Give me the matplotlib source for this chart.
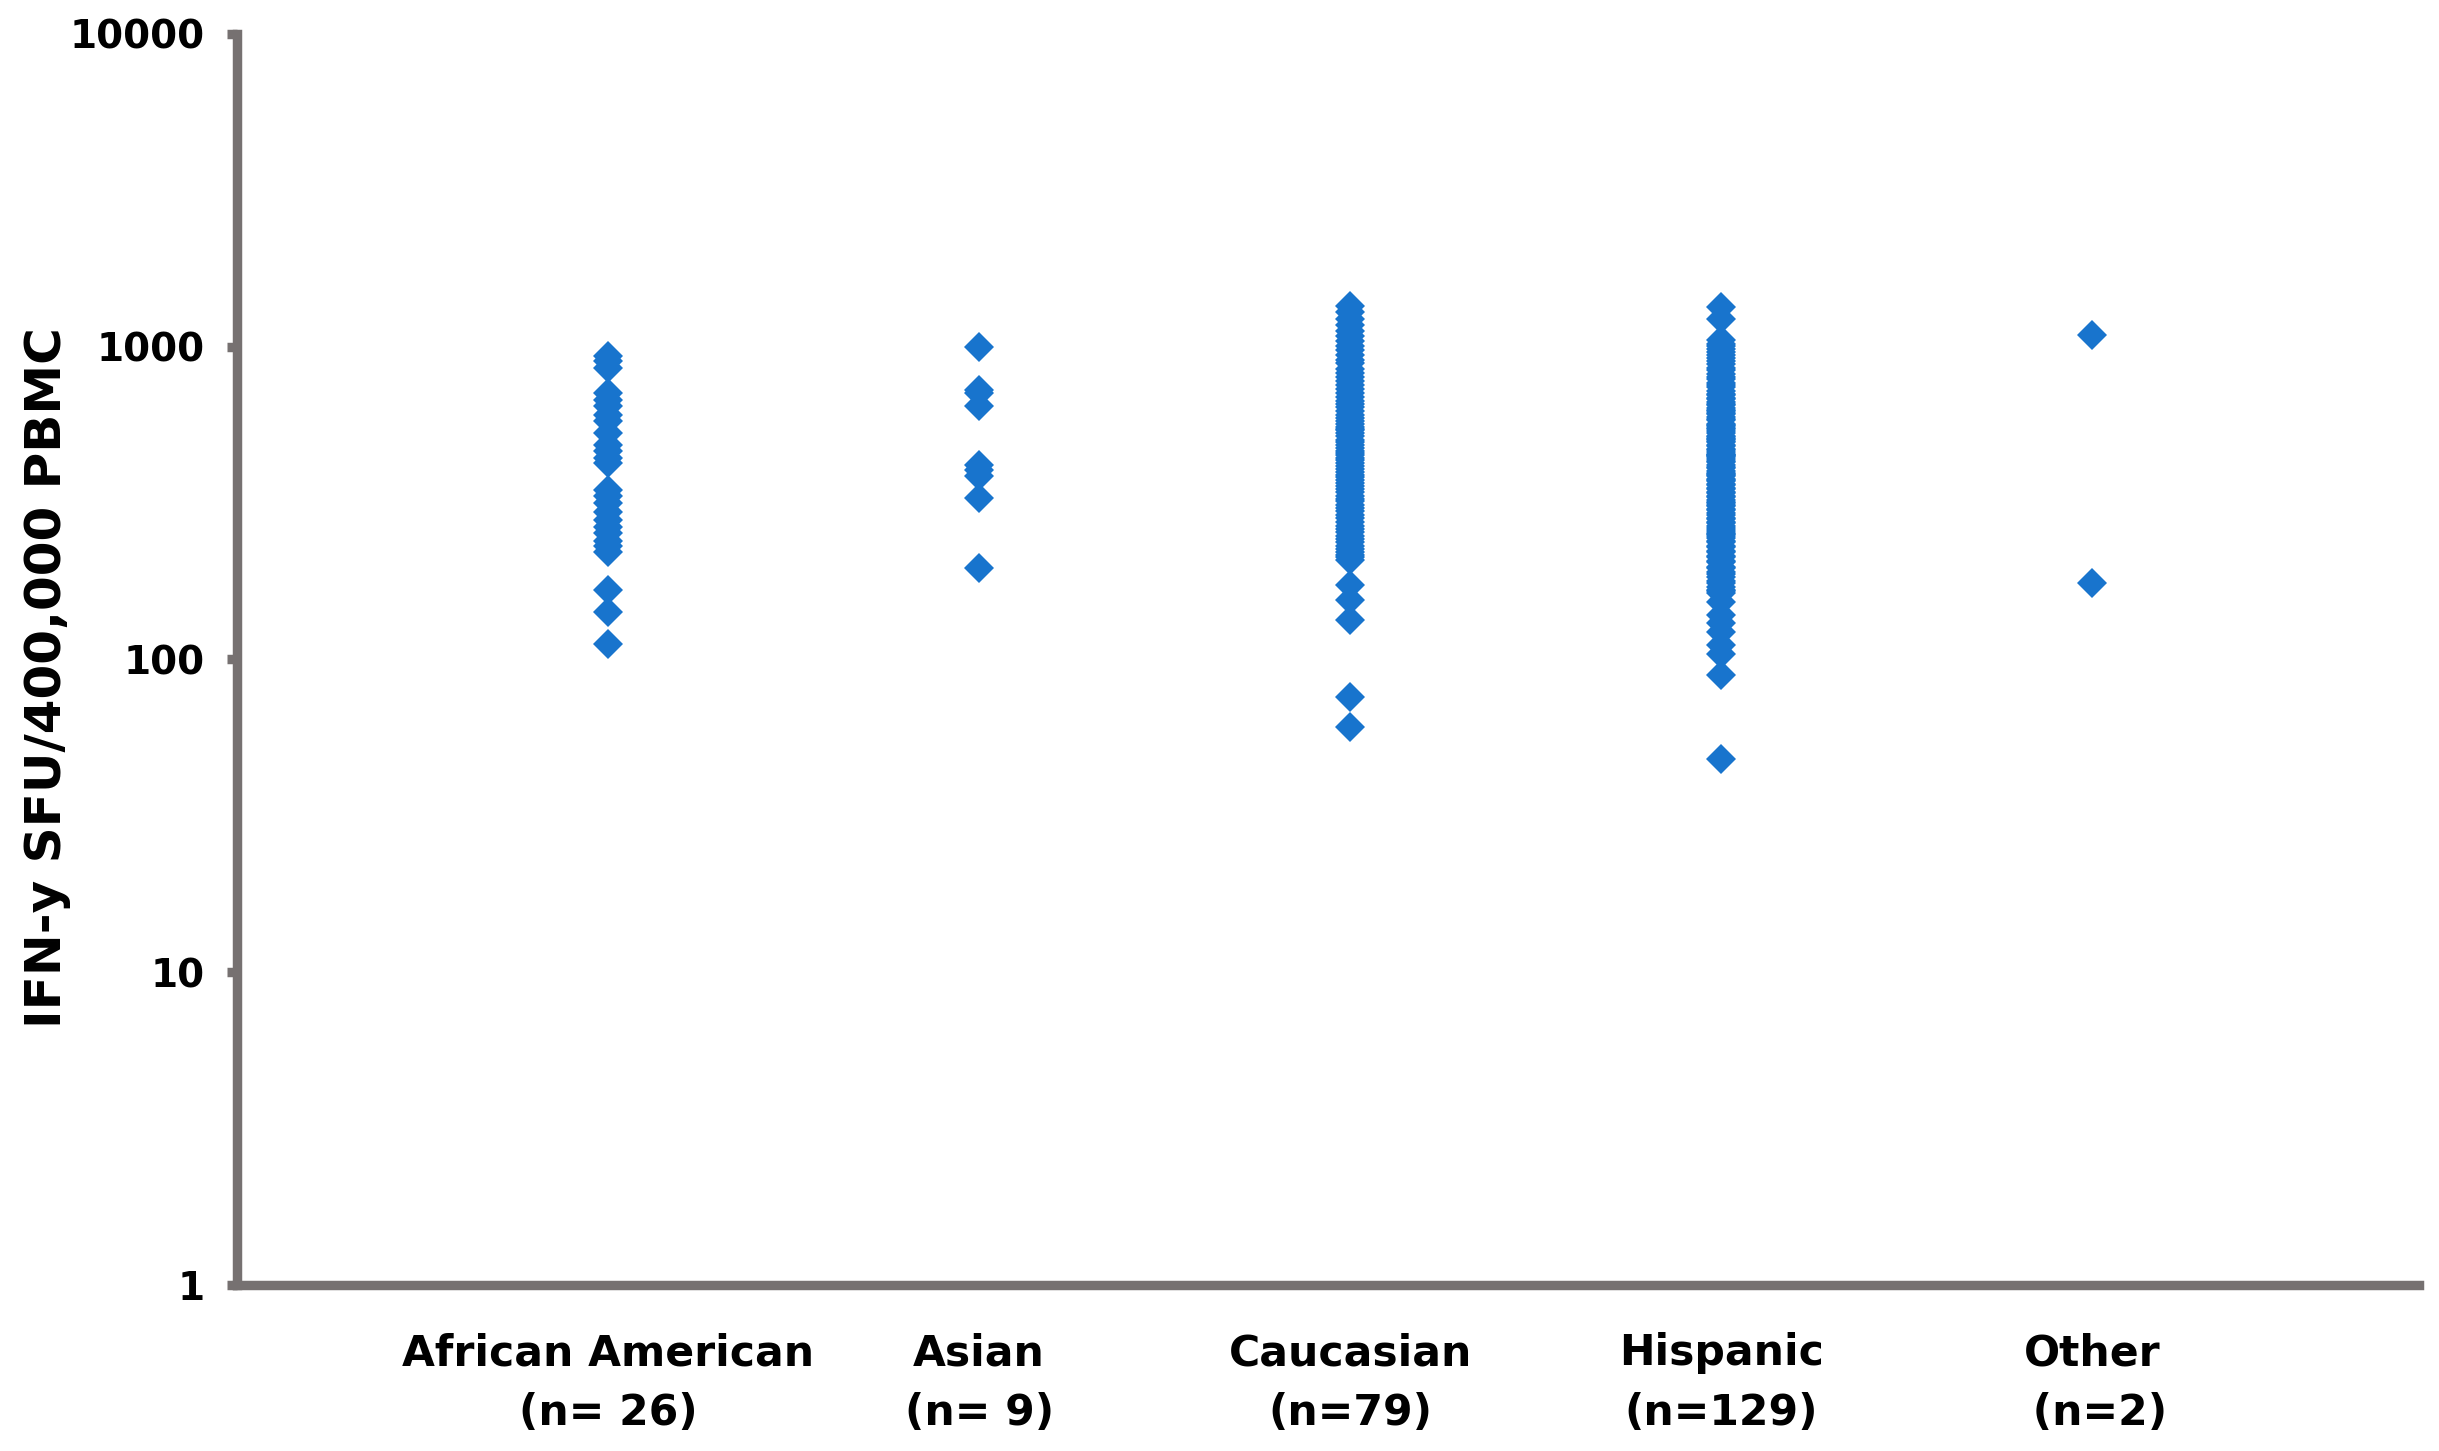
import matplotlib.pyplot as plt
import matplotlib as mpl
import numpy as np

mpl.rcParams.update({
    'font.family': 'DejaVu Sans',
    'font.weight': 'bold',
})

# data (IFN-y SFU per 400,000 PBMC)
groups = ['African American', 'Asian', 'Caucasian', 'Hispanic', 'Other']
group_labels = ['African American\n(n= 26)', 'Asian\n(n= 9)', 'Caucasian\n(n=79)',
                'Hispanic\n(n=129)', 'Other\n (n=2)']

african_american = [931, 897, 855, 711, 677, 648, 606, 577, 530, 486,
                    463, 441, 425, 349, 332, 316, 297, 280, 266, 254,
                    239, 230, 220, 167, 142, 112]

asian = [1000, 728, 710, 644, 419, 404, 385, 328, 196]

caucasian = [1345, 1290, 1225, 1170, 1120, 1085, 1040, 1005, 975, 940,
             910, 885, 850, 825, 800, 775, 752, 730, 712, 690,
             672, 655, 640, 622, 605, 590, 578, 565, 552, 540,
             528, 517, 505, 495, 484, 473, 463, 452, 442, 433,
             424, 415, 406, 398, 390, 382, 374, 366, 358, 350,
             342, 334, 327, 320, 312, 305, 298, 290, 283, 276,
             268, 262, 255, 249, 243, 237, 231, 226, 221, 216,
             212, 208, 545, 458,
             173, 155, 134, 76, 61]

hispanic = [1340, 1225,
            1050, 1020, 1003, 985, 962, 938, 921, 897, 880, 858,
            842, 818, 801, 787, 768, 752, 743, 721, 708, 700,
            688, 681, 668, 657, 652, 638, 628, 622, 611, 598,
            589, 581, 567, 562, 551, 547, 536, 530, 520, 516,
            506, 498, 495, 484, 480, 471, 468, 460, 455, 449,
            443, 437, 431, 427, 418, 413, 409, 400, 396, 389,
            386, 379, 374, 371, 364, 361, 353, 350, 344, 341,
            333, 331, 324, 318, 316, 309, 303, 301, 294, 289,
            284, 281, 275, 273, 267, 263, 260, 255, 251, 249,
            245, 239, 237, 231, 229, 223, 221, 215, 212, 207,
            205, 198, 196, 190, 187, 183, 178, 175, 170, 167,
            165, 446, 507, 556, 612, 452, 393, 312, 252,
            163, 153, 139, 131, 122, 111, 104, 89, 48]

other = [1092, 176]

yticks = [1, 10, 100, 1000, 10000]
ytick_labels = ['1', '10', '100', '1000', '10000']

MARKER_C = '#1874CD'
AXIS_C = '#767171'

fig = plt.figure(figsize=(12.195, 7.255), dpi=200)
ax = fig.add_axes([0.0972, 0.1144, 0.8946, 0.8622])

series = [african_american, asian, caucasian, hispanic, other]
for i, vals in enumerate(series):
    xs = np.full(len(vals), i + 1)
    ax.plot(xs, vals, linestyle='none', marker='D', markersize=7.4,
            markerfacecolor=MARKER_C, markeredgewidth=0, zorder=3)

ax.set_yscale('log')
ax.set_ylim(1, 10000)
ax.set_xlim(0, 5.88)
ax.set_yticks(yticks, labels=ytick_labels)
ax.yaxis.set_minor_locator(mpl.ticker.NullLocator())
ax.set_xticks(np.arange(1, len(groups) + 1), labels=group_labels)
for lbl in ax.get_xticklabels():
    lbl.set_linespacing(1.55)

for side in ['top', 'right']:
    ax.spines[side].set_visible(False)
for side in ['left', 'bottom']:
    ax.spines[side].set_linewidth(3.4)
    ax.spines[side].set_color(AXIS_C)

ax.tick_params(axis='y', length=3.5, width=3.4, color=AXIS_C,
               labelsize=14, pad=8)
ax.tick_params(axis='x', length=0, labelsize=15.3, pad=17)

ax.set_ylabel('IFN-y SFU/400,000 PBMC', fontsize=18, fontweight='bold')
ax.yaxis.set_label_coords(0.0290, 0.533, transform=fig.transFigure)

plt.savefig('out.png', dpi=200)
